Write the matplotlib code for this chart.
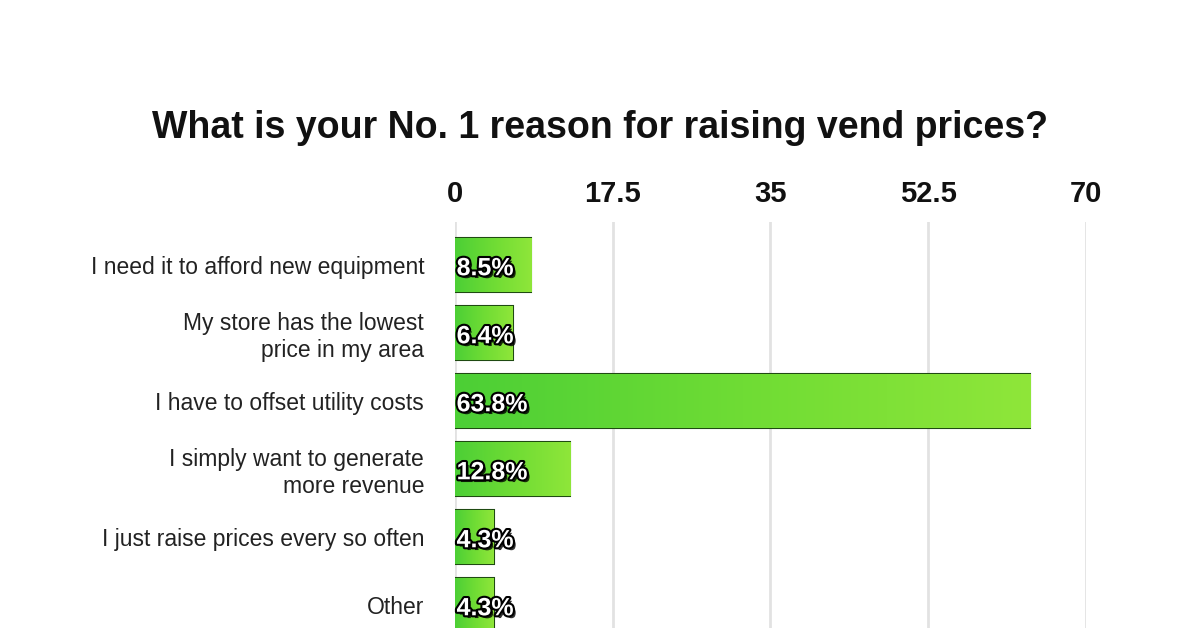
import numpy as np
import matplotlib
matplotlib.use("Agg")
import matplotlib.pyplot as plt
import matplotlib.patheffects as pe
from matplotlib.colors import LinearSegmentedColormap

# data
reasons = [
    "I need it to afford new equipment",
    "My store has the lowest\nprice in my area",
    "I have to offset utility costs",
    "I simply want to generate\nmore revenue",
    "I just raise prices every so often",
    "Other",
]
shares = [8.5, 6.4, 63.8, 12.8, 4.3, 4.3]
ticks = [0, 17.5, 35, 52.5, 70]
tick_labels = ["0", "17.5", "35", "52.5", "70"]

font = ["Liberation Sans", "DejaVu Sans"]

fig = plt.figure(figsize=(12, 6.28), dpi=100)
ax = fig.add_axes([0.379, 0.0, 0.526, 0.6465])

y = np.arange(len(reasons))
bars = ax.barh(y, shares, height=0.8, color="#62d638",
               edgecolor="#1f4a12", linewidth=1.5, zorder=3)

# green gradient inside each bar
green = LinearSegmentedColormap.from_list("g", ["#4ccf36", "#6fdc34", "#8fe63a"])
grad = np.linspace(0, 1, 256).reshape(1, -1)
for b in bars:
    x0, y0 = b.get_x(), b.get_y()
    w, h = b.get_width(), b.get_height()
    im = ax.imshow(grad, cmap=green, aspect="auto", zorder=3.5,
                   extent=[x0, x0 + w, y0 + h, y0])
    im.set_clip_path(b)

for yi, v in zip(y, shares):
    ax.text(0.2, yi + 0.05, f"{v}%", ha="left", va="center", color="white",
            fontsize=18, fontweight="bold", family=font, zorder=5,
            path_effects=[pe.withSimplePatchShadow(offset=(2, -2), shadow_rgbFace="black", alpha=0.8),
                          pe.Stroke(linewidth=3, foreground="black"), pe.Normal()])

ax.set_xlim(0, 70)
ax.set_ylim(5.34, -0.63)
ax.set_xticks(ticks)
ax.set_xticklabels(tick_labels, fontsize=21, fontweight="bold", family=font, color="#111111")
ax.xaxis.tick_top()
ax.tick_params(axis="x", length=0, pad=10)
ax.set_yticks(y)
ax.set_yticklabels(reasons, fontsize=16.5, family=font, ha="right", color="#222222")
ax.tick_params(axis="y", length=0, pad=22)
ax.xaxis.grid(True, color="#e2e2e2", linewidth=2, zorder=0)
ax.set_axisbelow(True)
for s in ax.spines.values():
    s.set_visible(False)

fig.text(0.5, 0.796, "What is your No. 1 reason for raising vend prices?",
         ha="center", va="center", fontsize=27, fontweight="bold", family=font,
         color="#111111")

fig.savefig("out.png", dpi=100)
